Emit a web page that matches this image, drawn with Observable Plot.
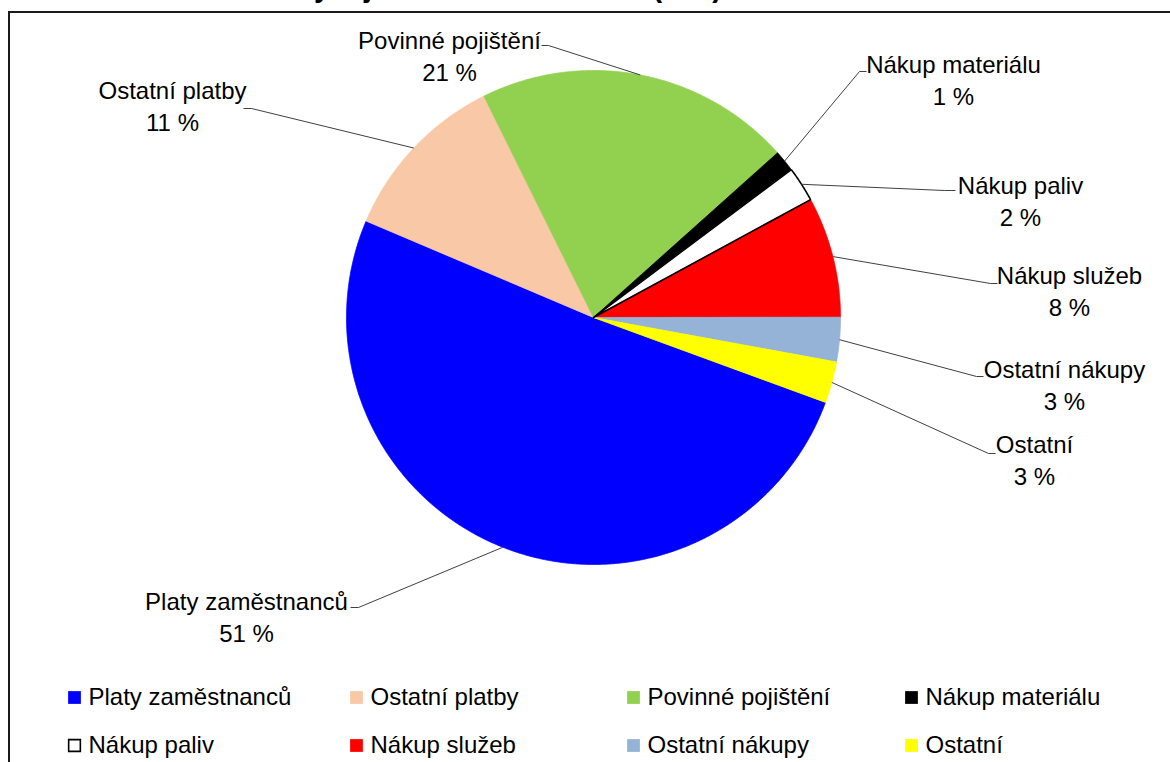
<!DOCTYPE html>
<html>
<head>
<meta charset="utf-8">
<script src="https://cdn.jsdelivr.net/npm/d3@7"></script>
<script src="https://cdn.jsdelivr.net/npm/@observablehq/plot@0.6"></script>
<style>
  html, body { margin: 0; padding: 0; background: #fff; overflow: hidden; width: 1170px; height: 762px; }
  #title { position: absolute; left: 161px; top: -27px; font: bold 29px "Liberation Sans", Arial, sans-serif; line-height: 1; white-space: nowrap; color: #000; }
  #chart { position: absolute; left: 0; top: 0; }
  #frame { position: absolute; left: 8px; top: 11px; width: 1300px; height: 900px; border: 2px solid #1a1a1a; box-sizing: border-box; pointer-events: none; }
</style>
</head>
<body>
<div id="title">Struktura výdajů úřadu v roce 2012 (v %)</div>
<div id="chart"></div>
<div id="frame"></div>
<script>
// ---- data ----
const categories = ["Platy zaměstnanců", "Ostatní platby", "Povinné pojištění", "Nákup materiálu",
                    "Nákup paliv", "Nákup služeb", "Ostatní nákupy", "Ostatní"];
const shares = [50.8, 11.3, 20.7, 1.4, 2.3, 7.9, 2.9, 2.7];
const colors = ["#0000ff", "#f9c9a7", "#92d050", "#000000", "#ffffff", "#ff0000", "#95b3d7", "#ffff00"];

// ---- layout ----
const W = 1170, H = 762;
const cx = 593, cy = 317, R = 247;
const firstSliceAngle = 110.1; // degrees, clockwise from 12 o'clock
// label block centres (x, middle y)
const labelPos = [[246, 615], [172, 104], [449, 54], [953, 78], [1020, 199], [1069, 289], [1064, 383], [1034, 458]];
// leader line: label-side anchor and short horizontal tick end
const leaderAnchor = [[350, 607, 358], [243, 108, 251], [541, 45, 548], [866, 71, 859], [955, 190, 944], [997, 283, 990], [983, 376, 976], [995, 453, 988]];
// legend
const legendCols = [74, 356, 633, 911];
const legendRows = [697, 745];

const table = categories.map((c, i) => ({cat: c, value: shares[i], pct: Math.round(shares[i]) + " %"}));

const a0 = firstSliceAngle * Math.PI / 180;
const arcs = d3.pie().sort(null).value(d => d.value).startAngle(a0).endAngle(a0 + 2 * Math.PI)(table);

const slicePts = [];
arcs.forEach(a => {
  const cat = a.data.cat;
  slicePts.push({cat, x: cx, y: cy});
  const n = Math.max(2, Math.ceil((a.endAngle - a.startAngle) / 0.004));
  for (let k = 0; k <= n; k++) {
    const t = a.startAngle + (a.endAngle - a.startAngle) * k / n;
    slicePts.push({cat, x: cx + R * Math.sin(t), y: cy - R * Math.cos(t)});
  }
  slicePts.push({cat, x: cx, y: cy});
});

const leaderPts = [];
arcs.forEach((a, i) => {
  const m = (a.startAngle + a.endAngle) / 2;
  const [ax, ay, tx] = leaderAnchor[i];
  leaderPts.push({cat: a.data.cat, x: ax, y: ay});
  leaderPts.push({cat: a.data.cat, x: tx, y: ay});
  leaderPts.push({cat: a.data.cat, x: cx + R * Math.sin(m), y: cy - R * Math.cos(m)});
});

const labels = table.map((d, i) => ({text: d.cat + "\n" + d.pct, x: labelPos[i][0], y: labelPos[i][1]}));

const legend = table.map((d, i) => ({
  cat: d.cat,
  x: legendCols[i % 4],
  y: legendRows[Math.floor(i / 4)]
}));

const font = "'Liberation Sans', Arial, sans-serif";

const chart = Plot.plot({
  width: W, height: H, margin: 0,
  x: {domain: [0, W], range: [0, W], axis: null},
  y: {domain: [0, H], range: [0, H], axis: null},
  color: {domain: categories, range: colors},
  style: {fontFamily: font, fontSize: "24px", background: "transparent", color: "#000"},
  marks: [
    Plot.line(slicePts, {x: "x", y: "y", z: "cat", fill: "cat", stroke: "cat", strokeWidth: 0.8, strokeLinejoin: "round"}),
    Plot.line(slicePts.filter(d => d.cat === "Nákup paliv"), {x: "x", y: "y", stroke: "#000", strokeWidth: 1.6, strokeLinejoin: "miter"}),
    Plot.line(leaderPts, {x: "x", y: "y", z: "cat", stroke: "#404040", strokeWidth: 1, strokeLinecap: "butt"}),
    Plot.text(labels, {x: "x", y: "y", text: "text", textAnchor: "middle", lineHeight: 1.36, fontSize: 24, fill: "#000"}),
    Plot.dot(legend, {x: "x", y: "y", fill: "cat", symbol: "square", r: 7.2}),
    Plot.dot(legend.filter(d => d.cat === "Nákup paliv"), {x: "x", y: "y", fill: "#fff", stroke: "#000", strokeWidth: 1.6, symbol: "square", r: 6.6}),
    Plot.text(legend, {x: d => d.x + 14, y: "y", text: "cat", textAnchor: "start", fontSize: 24, fill: "#000"})
  ]
});
document.getElementById("chart").appendChild(chart);
</script>
</body>
</html>
